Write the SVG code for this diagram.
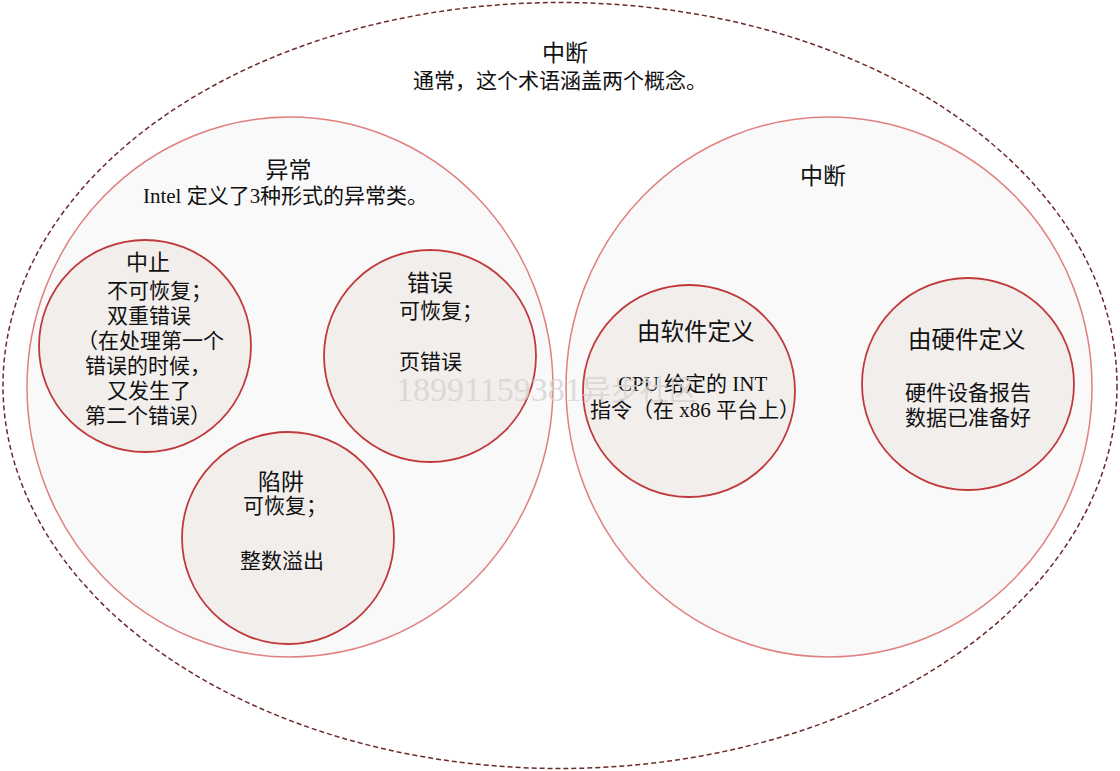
<svg xmlns="http://www.w3.org/2000/svg" width="1120" height="771" viewBox="0 0 1120 771">
<style>
.big{fill:#f9f9fa;stroke:#e08080;stroke-width:1.5}
.small{fill:#f2eeec;stroke:#c0393b;stroke-width:1.8}
.t{font-family:"Liberation Serif","Noto Sans CJK SC",serif;fill:#111}
.m{text-anchor:middle}
.h{font-size:23px}
.b{font-size:21px}
.wm{font-family:"Liberation Serif","Noto Sans CJK SC",serif;fill:#d6d2d2;fill-opacity:0.8}
</style>
<rect width="1120" height="771" fill="#ffffff"/>
<g id="outer">
<ellipse cx="560" cy="385.5" rx="557" ry="383" fill="none" stroke="#6b2a2a" stroke-width="1.5" stroke-dasharray="5,3"/>
<text class="t m h" x="565" y="61">中断</text>
<text class="t m b" x="560" y="88">通常，这个术语涵盖两个概念。</text>
</g>
<g id="exceptions">
<ellipse class="big" cx="290" cy="387" rx="263" ry="270"/>
<text class="t m h" x="288.5" y="178">异常</text>
<text class="t b" x="143" y="203" textLength="285" lengthAdjust="spacing">Intel 定义了3种形式的异常类。</text>
</g>
<g id="interrupts">
<ellipse class="big" cx="829" cy="387" rx="263" ry="270"/>
<text class="t m h" x="823" y="184">中断</text>
</g>
<g id="abort">
<circle class="small" cx="145" cy="346" r="106"/>
<text class="t h" x="126" y="270" style="font-size:22px">中止</text>
<text class="t b" x="107" y="298">不可恢复；</text>
<text class="t b" x="107" y="323">双重错误</text>
<text class="t b" x="77" y="348">（在处理第一个</text>
<text class="t b" x="85" y="373">错误的时候，</text>
<text class="t b" x="107" y="398">又发生了</text>
<text class="t b" x="85" y="423">第二个错误）</text>
</g>
<g id="fault">
<circle class="small" cx="430" cy="356" r="106"/>
<text class="t h" x="407" y="291">错误</text>
<text class="t b" x="399" y="318">可恢复；</text>
<text class="t b" x="399" y="369">页错误</text>
</g>
<g id="trap">
<circle class="small" cx="288" cy="538" r="106"/>
<text class="t h" x="258" y="490">陷阱</text>
<text class="t b" x="243" y="513">可恢复；</text>
<text class="t b" x="240" y="568">整数溢出</text>
</g>
<g id="software">
<circle class="small" cx="689" cy="391" r="106"/>
<text class="t h" x="637" y="340" style="font-size:23.5px">由软件定义</text>
<text class="t b" x="618" y="391">CPU 给定的 INT</text>
<text class="t b" x="590" y="417">指令（在 x86 平台上）</text>
</g>
<g id="hardware">
<circle class="small" cx="968" cy="384" r="106"/>
<text class="t h" x="908" y="348" style="font-size:23.5px">由硬件定义</text>
<text class="t b" x="905" y="400">硬件设备报告</text>
<text class="t b" x="905" y="425">数据已准备好</text>
</g>
<g id="connectors"></g>
<text class="wm" x="396" y="401" style="font-size:34px">18991159381<tspan style="font-size:29px">异步社区</tspan></text>
</svg>
